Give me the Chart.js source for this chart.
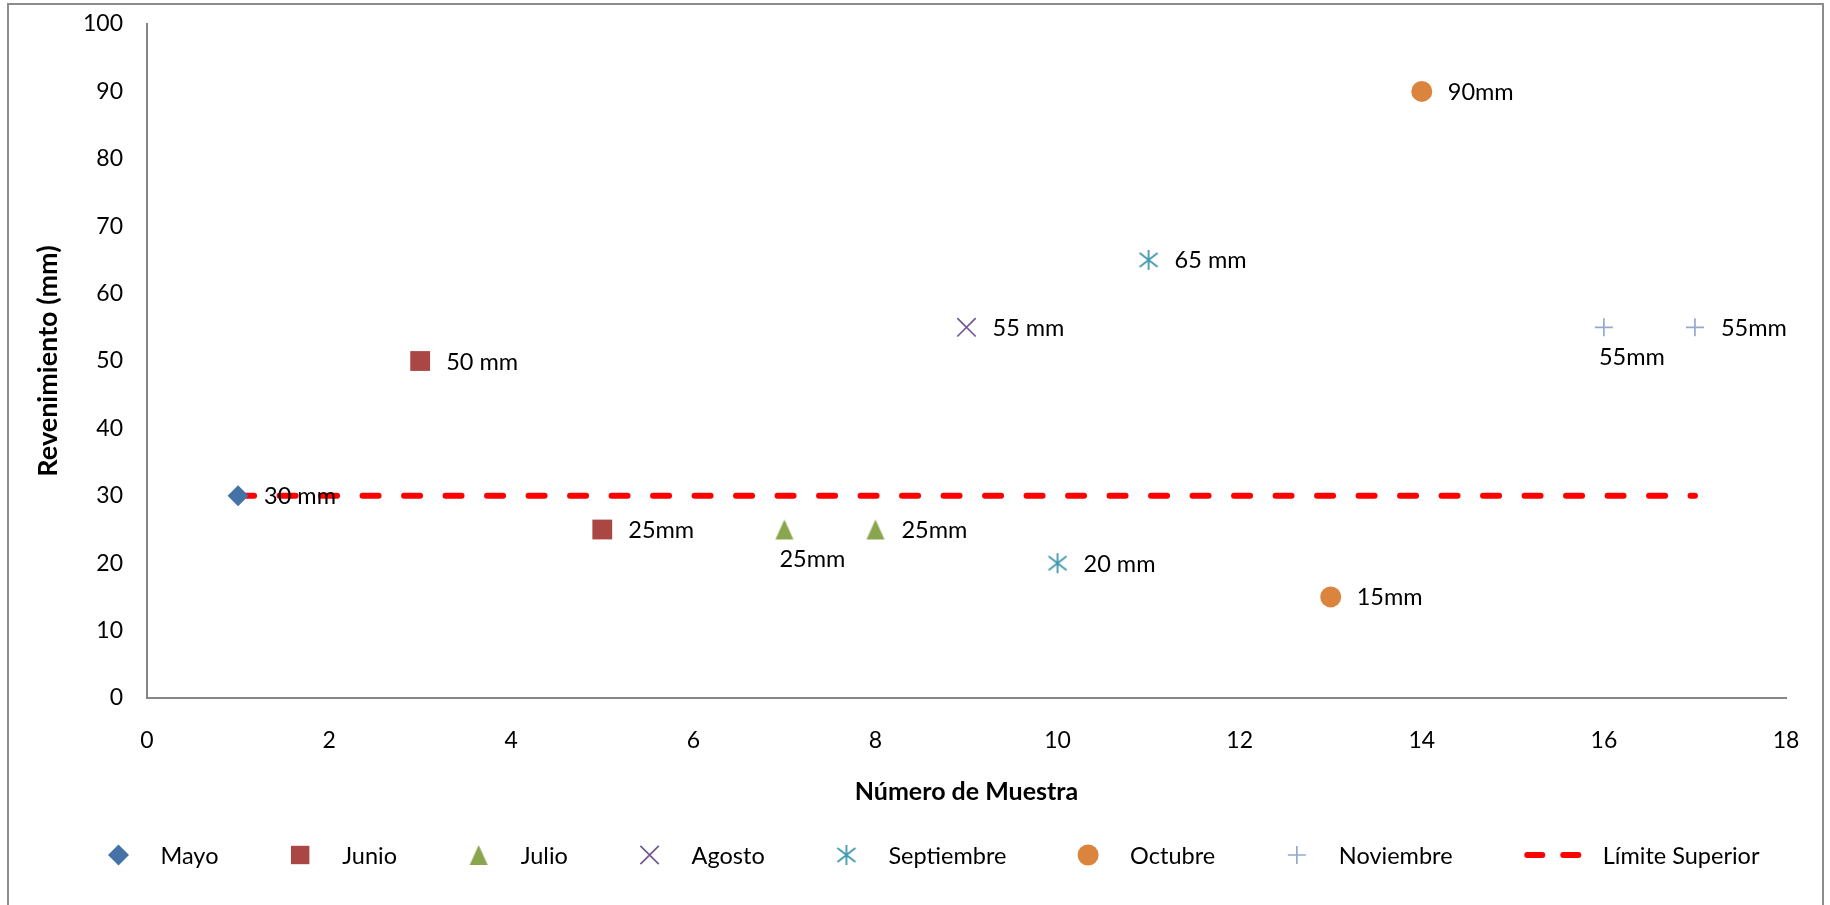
<!DOCTYPE html>
<html lang="es">
<head>
<meta charset="utf-8">
<title>Revenimiento por número de muestra</title>
<script src="https://cdn.jsdelivr.net/npm/chart.js@4.4.1/dist/chart.umd.min.js"></script>
<style>
  html, body { margin: 0; padding: 0; background: #fff; }
  #wrap { width: 1830px; height: 905px; position: relative; }
</style>
</head>
<body>
<div id="wrap"><canvas id="c" width="1830" height="905"></canvas></div>
<script>
// Muestras por mes: número de muestra (x) y revenimiento en mm (y)
const mayoX = [1];             const mayoY = [30];
const junioX = [3, 5];         const junioY = [50, 25];
const julioX = [7, 8];         const julioY = [25, 25];
const agostoX = [9];           const agostoY = [55];
const septiembreX = [10, 11];  const septiembreY = [20, 65];
const octubreX = [13, 14];     const octubreY = [15, 90];
const noviembreX = [16, 17];   const noviembreY = [55, 55];

// Límite superior de revenimiento
const limiteX = [1, 17];       const limiteY = [30, 30];

// Unidad que acompaña a cada valor en su etiqueta
const mayoUnidad = [' mm'];
const junioUnidad = [' mm', 'mm'];
const julioUnidad = ['mm', 'mm'];
const agostoUnidad = [' mm'];
const septiembreUnidad = [' mm', ' mm'];
const octubreUnidad = ['mm', 'mm'];
const noviembreUnidad = ['mm', 'mm'];

// Marcas de los ejes
const xTicks = [0, 2, 4, 6, 8, 10, 12, 14, 16, 18];
const yTicks = [0, 10, 20, 30, 40, 50, 60, 70, 80, 90, 100];

const FONT = 'Lato, "Open Sans", sans-serif';
const TEXTO = 23.5;
const puntos = (xs, ys) => xs.map((x, i) => ({ x, y: ys[i] }));

// Marcador triangular (más alto que ancho)
function marcadorTriangulo(color) {
  const c = document.createElement('canvas');
  c.width = 20; c.height = 22;
  const g = c.getContext('2d');
  g.fillStyle = color;
  g.beginPath();
  g.moveTo(1, 21); g.lineTo(19, 21); g.lineTo(10, 1); g.closePath();
  g.fill();
  return c;
}

// Marcador asterisco: aspa con trazo vertical
function marcadorAsterisco(color) {
  const c = document.createElement('canvas');
  c.width = 22; c.height = 22;
  const g = c.getContext('2d');
  g.strokeStyle = color;
  g.lineWidth = 1.8;
  g.beginPath();
  g.moveTo(2, 4); g.lineTo(20, 18);
  g.moveTo(2, 18); g.lineTo(20, 4);
  g.moveTo(11, 1); g.lineTo(11, 21);
  g.stroke();
  return c;
}

const datasets = [
  { label: 'Mayo', data: puntos(mayoX, mayoY), unidad: mayoUnidad,
    pointStyle: 'rectRot', pointRadius: 10.5, backgroundColor: '#4572A7', borderColor: '#4572A7', borderWidth: 0 },
  { label: 'Junio', data: puntos(junioX, junioY), unidad: junioUnidad,
    pointStyle: 'rect', pointRadius: 14, backgroundColor: '#AA4643', borderColor: '#AA4643', borderWidth: 0 },
  { label: 'Julio', data: puntos(julioX, julioY), unidad: julioUnidad, posEtiqueta: ['below', 'right'],
    pointStyle: marcadorTriangulo('#89A54E'), pointRadius: 10, backgroundColor: '#89A54E', borderColor: '#89A54E', borderWidth: 0 },
  { label: 'Agosto', data: puntos(agostoX, agostoY), unidad: agostoUnidad,
    pointStyle: 'crossRot', pointRadius: 13, backgroundColor: '#71588F', borderColor: '#71588F', borderWidth: 1.7 },
  { label: 'Septiembre', data: puntos(septiembreX, septiembreY), unidad: septiembreUnidad,
    pointStyle: marcadorAsterisco('#4198AF'), pointRadius: 10, backgroundColor: '#4198AF', borderColor: '#4198AF', borderWidth: 0 },
  { label: 'Octubre', data: puntos(octubreX, octubreY), unidad: octubreUnidad,
    pointStyle: 'circle', pointRadius: 10.5, backgroundColor: '#DB843D', borderColor: '#DB843D', borderWidth: 0 },
  { label: 'Noviembre', data: puntos(noviembreX, noviembreY), unidad: noviembreUnidad, posEtiqueta: ['below', 'right'],
    pointStyle: 'cross', pointRadius: 9, backgroundColor: '#93A9CF', borderColor: '#93A9CF', borderWidth: 1.7 },
  { label: 'Límite Superior', data: puntos(limiteX, limiteY), esLinea: true,
    showLine: true, pointRadius: 0, borderColor: '#FF0000', backgroundColor: '#FF0000',
    borderWidth: 6, borderDash: [16, 25.5], borderCapStyle: 'round' }
];

// Marco exterior del gráfico
const marco = {
  id: 'marco',
  beforeDraw(chart) {
    const ctx = chart.ctx;
    ctx.save();
    ctx.fillStyle = '#fff';
    ctx.fillRect(0, 0, chart.width, chart.height);
    ctx.strokeStyle = '#8C8C8C';
    ctx.lineWidth = 2;
    ctx.strokeRect(8, 4, 1815, 1000);
    ctx.restore();
  }
};

// Etiquetas de valor junto a cada punto
const etiquetas = {
  id: 'etiquetas',
  afterDatasetsDraw(chart) {
    const ctx = chart.ctx;
    ctx.save();
    ctx.font = TEXTO + 'px ' + FONT;
    ctx.fillStyle = '#000';
    ctx.textBaseline = 'middle';
    ctx.textAlign = 'left';
    chart.data.datasets.forEach((ds, i) => {
      if (!ds.unidad) return;
      const meta = chart.getDatasetMeta(i);
      meta.data.forEach((pt, j) => {
        const txt = ds.data[j].y + ds.unidad[j];
        const pos = (ds.posEtiqueta && ds.posEtiqueta[j]) || 'right';
        if (pos === 'below') ctx.fillText(txt, pt.x - 5, pt.y + 30);
        else ctx.fillText(txt, pt.x + 26, pt.y + 1);
      });
    });
    ctx.restore();
  }
};

// Leyenda en una fila bajo el título del eje X
const leyenda = {
  id: 'leyenda',
  afterDraw(chart) {
    const ctx = chart.ctx;
    const y = 855;
    const anchoTotal = 1651, centro = 934;
    ctx.save();
    ctx.font = TEXTO + 'px ' + FONT;
    const items = chart.data.datasets.map(ds => {
      const half = ds.esLinea ? 28.5 : 10;
      const off = ds.esLinea ? 50 : 42;
      const tw = ctx.measureText(ds.label).width;
      return { ds, half, off, tw, w: half + off + tw };
    });
    const suma = items.reduce((a, it) => a + it.w, 0);
    const gap = Math.max(40, (anchoTotal - suma) / (items.length - 1));
    const total = suma + gap * (items.length - 1);
    let x = centro - total / 2;
    items.forEach(it => {
      const cx = x + it.half;
      const ds = it.ds;
      if (ds.esLinea) {
        ctx.strokeStyle = ds.borderColor;
        ctx.lineWidth = 6;
        ctx.lineCap = 'round';
        ctx.beginPath();
        ctx.moveTo(x + 3, y); ctx.lineTo(x + 18, y);
        ctx.moveTo(x + 39, y); ctx.lineTo(x + 54, y);
        ctx.stroke();
      } else {
        ctx.fillStyle = ds.backgroundColor;
        ctx.strokeStyle = ds.borderColor;
        ctx.lineWidth = ds.borderWidth || 1;
        Chart.helpers.drawPoint(ctx, {
          pointStyle: ds.pointStyle,
          radius: ds.pointStyle === 'rect' ? 13 : ds.pointRadius,
          borderWidth: ds.borderWidth, rotation: 0
        }, cx, y);
      }
      ctx.fillStyle = '#000';
      ctx.textBaseline = 'middle';
      ctx.textAlign = 'left';
      ctx.fillText(ds.label, cx + it.off, y + 1);
      x += it.w + gap;
    });
    ctx.restore();
  }
};

Chart.defaults.font.family = FONT;
Chart.defaults.font.size = 23;
Chart.defaults.color = '#000';

new Chart(document.getElementById('c'), {
  type: 'scatter',
  data: { datasets },
  plugins: [marco, etiquetas, leyenda],
  options: {
    responsive: false,
    animation: false,
    events: [],
    layout: { padding: { left: 10, top: 24, right: 44, bottom: 97 } },
    plugins: { legend: { display: false }, tooltip: { enabled: false } },
    scales: {
      x: {
        type: 'linear', min: 0, max: 18,
        afterBuildTicks: s => { s.ticks = xTicks.map(v => ({ value: v })); },
        afterFit: s => { s.height = 110; s.paddingLeft = 0; s.paddingRight = 0; },
        grid: { display: false, drawTicks: false },
        border: { display: true, color: '#868686', width: 2 },
        ticks: { padding: 29, font: { size: 23 }, color: '#000' },
        title: { display: true, text: 'Número de Muestra', font: { size: 25, weight: 'bold' },
                 color: '#000', padding: { top: 4, bottom: 1 } }
      },
      y: {
        type: 'linear', min: 0, max: 100,
        afterBuildTicks: s => { s.ticks = yTicks.map(v => ({ value: v })); },
        afterFit: s => { s.width = 137; s.paddingTop = 0; s.paddingBottom = 0; },
        grid: { display: false, drawTicks: false },
        border: { display: true, color: '#868686', width: 2 },
        ticks: { padding: 24, font: { size: 23 }, color: '#000' },
        title: { display: true, text: 'Revenimiento (mm)', font: { size: 27, weight: 'bold' },
                 color: '#000', padding: { top: 22, bottom: 4 } }
      }
    }
  }
});
</script>
</body>
</html>
